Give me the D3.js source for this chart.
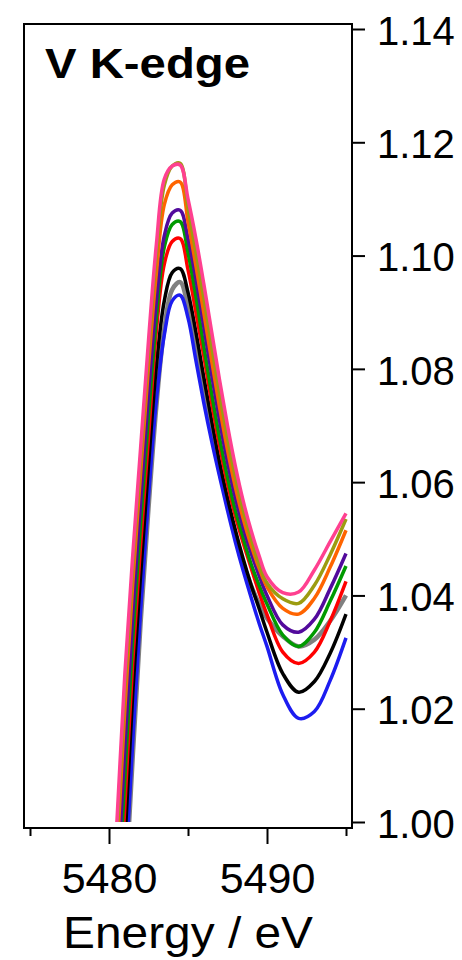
<!DOCTYPE html>
<html>
<head>
<meta charset="utf-8">
<script src="https://cdn.jsdelivr.net/npm/d3@7"></script>
<style>
  html, body { margin: 0; padding: 0; background: #fff; }
  svg { display: block; }
  text { font-family: "Liberation Sans", Arial, sans-serif; fill: #000; }
</style>
</head>
<body>
<svg id="chart" width="462" height="960"></svg>
<script>
// Photon energy grid (eV)
const energy = [5479.5, 5480, 5480.5, 5481, 5481.5, 5482, 5482.5, 5483, 5483.5, 5484, 5484.5,
  5485, 5485.5, 5486, 5486.5, 5487, 5487.5, 5488, 5488.5, 5489, 5489.5, 5490, 5491, 5492, 5493, 5494, 5495];

// Normalised absorption for each spectrum
const grayData   = [0.915, 0.936, 0.961, 0.986, 1.0114, 1.0352, 1.0554, 1.0735, 1.0870, 1.0940, 1.0953,
  1.0910, 1.0840, 1.0765, 1.0690, 1.0622, 1.0560, 1.0505, 1.0457, 1.0417, 1.0385, 1.0360, 1.0328, 1.0310, 1.0322, 1.0355, 1.0400];
const blueData   = [0.910, 0.940, 0.9635, 0.9885, 1.014, 1.0373, 1.0573, 1.0745, 1.0860, 1.0920, 1.0930,
  1.0890, 1.0815, 1.0740, 1.0672, 1.0610, 1.0550, 1.0494, 1.0443, 1.0396, 1.0351, 1.0310, 1.0225, 1.0183, 1.0195, 1.0250, 1.0325];
const blackData  = [0.925, 0.946, 0.971, 0.996, 1.0226, 1.0436, 1.0630, 1.0805, 1.0920, 1.0970, 1.0977,
  1.0935, 1.0865, 1.0785, 1.0708, 1.0635, 1.0572, 1.0515, 1.0464, 1.0418, 1.0377, 1.0335, 1.0262, 1.0229, 1.0248, 1.0298, 1.0367];
const redData    = [0.930, 0.9525, 0.9775, 1.0026, 1.0281, 1.0489, 1.0679, 1.0867, 1.0985, 1.1025, 1.1030,
  1.0975, 1.0900, 1.0823, 1.0740, 1.0664, 1.0597, 1.0540, 1.0492, 1.0448, 1.0405, 1.0366, 1.0300, 1.0280, 1.0300, 1.0355, 1.0425];
const greenData  = [0.935, 0.9575, 0.9825, 1.0078, 1.0323, 1.0527, 1.0717, 1.0890, 1.1015, 1.1055, 1.1060,
  1.1005, 1.0928, 1.0840, 1.0756, 1.0678, 1.0609, 1.0550, 1.0501, 1.0455, 1.0418, 1.0385, 1.0330, 1.0310, 1.0335, 1.0390, 1.0452];
const purpleData = [0.940, 0.9625, 0.9875, 1.013, 1.0365, 1.0565, 1.0755, 1.0920, 1.1035, 1.1075, 1.1080,
  1.1030, 1.0958, 1.0874, 1.0789, 1.0708, 1.0635, 1.0572, 1.0519, 1.0474, 1.0435, 1.0400, 1.0348, 1.0335, 1.0358, 1.0412, 1.0474];
const orangeData = [0.945, 0.969, 0.994, 1.0198, 1.042, 1.0616, 1.0804, 1.0970, 1.1090, 1.1125, 1.1130,
  1.1060, 1.0982, 1.0899, 1.0814, 1.0732, 1.0657, 1.0591, 1.0535, 1.0488, 1.0448, 1.0415, 1.0377, 1.0367, 1.0395, 1.0450, 1.0515];
const oliveData  = [0.948, 0.9725, 0.9975, 1.0234, 1.0449, 1.0641, 1.0831, 1.1003, 1.1124, 1.1158, 1.1163,
  1.1085, 1.1006, 1.0925, 1.0840, 1.0756, 1.0678, 1.0609, 1.0550, 1.0501, 1.0455, 1.0422, 1.0394, 1.0386, 1.0418, 1.0472, 1.0535];
const pinkData   = [0.950, 0.975, 1.000, 1.026, 1.047, 1.066, 1.085, 1.102, 1.1135, 1.1158, 1.1160,
  1.1100, 1.1030, 1.0950, 1.0865, 1.0780, 1.0700, 1.0628, 1.0566, 1.0514, 1.0470, 1.0433, 1.0405, 1.0406, 1.0445, 1.0495, 1.0545];

const series = [
  { name: "gray",   values: grayData,   color: "#808080", width: 4.5 },
  { name: "blue",   values: blueData,   color: "#1c1cf0", width: 3.5 },
  { name: "black",  values: blackData,  color: "#000000", width: 3.5 },
  { name: "red",    values: redData,    color: "#ff0000", width: 3.5 },
  { name: "green",  values: greenData,  color: "#009a00", width: 3.5 },
  { name: "purple", values: purpleData, color: "#520a9c", width: 3.5 },
  { name: "orange", values: orangeData, color: "#ff6400", width: 3.5 },
  { name: "olive",  values: oliveData,  color: "#9c9c10", width: 3.5 },
  { name: "pink",   values: pinkData,   color: "#ff4090", width: 3.5 }
];

const yTicks = [1.00, 1.02, 1.04, 1.06, 1.08, 1.10, 1.12, 1.14];
const xMajor = [5480, 5490];
const xMinor = [5475, 5485, 5495];

const frame = { left: 24, top: 24, right: 352, bottom: 828 };

const x = d3.scaleLinear().domain([5480, 5490]).range([109, 267]);
const y = d3.scaleLinear().domain([1.00, 1.14]).range([822, 29]);

const svg = d3.select("#chart");

// clip the spectra to the plotted window
svg.append("defs").append("clipPath").attr("id", "plotClip")
  .append("rect")
  .attr("x", frame.left).attr("y", frame.top)
  .attr("width", frame.right - frame.left)
  .attr("height", y(1.00) - frame.top);

const line = d3.line()
  .x((d, i) => x(energy[i]))
  .y(d => y(d))
  .curve(d3.curveCatmullRom.alpha(0.5));

svg.append("g").attr("clip-path", "url(#plotClip)")
  .selectAll("path")
  .data(series)
  .join("path")
  .attr("fill", "none")
  .attr("stroke", d => d.color)
  .attr("stroke-width", d => d.width)
  .attr("stroke-linejoin", "round")
  .attr("stroke-linecap", "butt")
  .attr("d", d => line(d.values));

// plot frame
svg.append("rect")
  .attr("x", frame.left).attr("y", frame.top)
  .attr("width", frame.right - frame.left)
  .attr("height", frame.bottom - frame.top)
  .attr("fill", "none").attr("stroke", "#000").attr("stroke-width", 2);

// right-hand value axis
const yAxis = svg.append("g")
  .attr("transform", `translate(${frame.right},0)`)
  .call(d3.axisRight(y).tickValues(yTicks).tickFormat(d3.format(".2f")).tickSize(13).tickPadding(12));
yAxis.select(".domain").remove();
yAxis.selectAll(".tick line").attr("stroke", "#000").attr("stroke-width", 2);
yAxis.selectAll(".tick text")
  .attr("font-size", 40)
  .attr("font-family", "Liberation Sans, Arial, sans-serif")
  .attr("dy", "0.38em");

// bottom energy axis: labelled major ticks, short minor ticks
const xAxis = svg.append("g")
  .attr("transform", `translate(0,${frame.bottom})`)
  .call(d3.axisBottom(x).tickValues(xMajor).tickFormat(d3.format("d")).tickSize(16).tickPadding(0));
xAxis.select(".domain").remove();
xAxis.selectAll(".tick line").attr("stroke", "#000").attr("stroke-width", 2);
xAxis.selectAll(".tick text")
  .attr("font-size", 43)
  .attr("font-family", "Liberation Sans, Arial, sans-serif")
  .attr("y", 65).attr("dy", 0);

const xMinorAxis = svg.append("g")
  .attr("transform", `translate(0,${frame.bottom})`)
  .call(d3.axisBottom(x).tickValues(xMinor).tickFormat("").tickSize(8));
xMinorAxis.select(".domain").remove();
xMinorAxis.selectAll(".tick line").attr("stroke", "#000").attr("stroke-width", 2);

// axis title
svg.append("text")
  .attr("x", 63).attr("y", 948)
  .attr("font-size", 44)
  .attr("textLength", 250)
  .attr("lengthAdjust", "spacingAndGlyphs")
  .text("Energy / eV");

// panel label
svg.append("text")
  .attr("x", 45).attr("y", 78)
  .attr("font-size", 42)
  .attr("font-weight", "bold")
  .attr("textLength", 205)
  .attr("lengthAdjust", "spacingAndGlyphs")
  .text("V K-edge");
</script>
</body>
</html>
